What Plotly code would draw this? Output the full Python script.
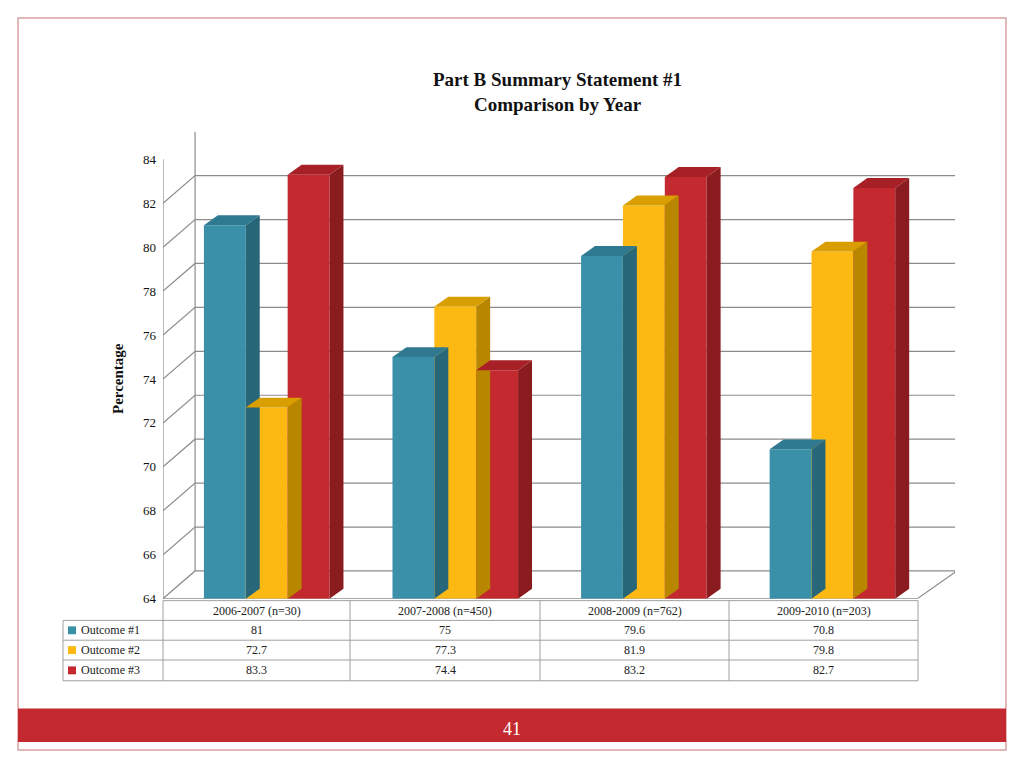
import plotly.graph_objects as go

years = ["2006-2007 (n=30)", "2007-2008 (n=450)", "2008-2009 (n=762)", "2009-2010 (n=203)"]
series_names = ["Outcome #1", "Outcome #2", "Outcome #3"]
outcome1 = [81, 75, 79.6, 70.8]
outcome2 = [72.7, 77.3, 81.9, 79.8]
outcome3 = [83.3, 74.4, 83.2, 82.7]
y_ticks = list(range(64, 86, 2))

front = ["#3A90A9", "#FDB913", "#C3292E"]
side = ["#276779", "#B98600", "#8A1B1F"]
top = ["#2F7A90", "#D99E00", "#A62025"]

# page has an 8px body margin, so map reference pixels into the figure
W, H = 1008, 752
OFF = 8
def px(x): return (x - OFF) / W
def py(y): return 1 - (y - OFF) / H

bw = 0.222
dx, dy = 0.074, 0.45      # bar depth
wx, wy = 0.17, 1.26       # back-wall offset
x0r, x1r = -0.55, 3.65
ymin = 64

fig = go.Figure()
shapes, annotations = [], []

# back wall gridlines
for v in y_ticks[:-1]:
    shapes.append(dict(type="path", xref="x", yref="y", layer="below",
                       path=f"M {x0r},{v} L {x0r+wx},{v+wy} L {x1r},{v+wy}",
                       line=dict(color="#8C8C8C", width=1.2)))
shapes.append(dict(type="line", xref="x", yref="y", x0=x0r+wx, x1=x0r+wx, y0=ymin+wy, y1=84+wy,
                   line=dict(color="#8C8C8C", width=1.2)))
shapes.append(dict(type="line", xref="x", yref="y", x0=x0r, x1=x0r, y0=ymin, y1=84,
                   line=dict(color="#8C8C8C", width=1.2)))
shapes.append(dict(type="path", xref="x", yref="y", layer="below",
                   path=f"M {x0r},{ymin} L {3.45},{ymin} L {x1r},{ymin+wy*0.95} L {x1r},{ymin+wy}",
                   line=dict(color="#8C8C8C", width=1.2)))

all_vals = [outcome1, outcome2, outcome3]
for s, vals in enumerate(all_vals):
    off = (s - 1) * bw
    xs = [i + off for i in range(len(vals))]
    fig.add_trace(go.Bar(x=xs, y=[v - ymin for v in vals], base=ymin, width=bw,
                         marker=dict(color=front[s], line=dict(width=0)),
                         name=series_names[s], showlegend=False))
    for xc, v in zip(xs, vals):
        l, r = xc - bw / 2, xc + bw / 2
        shapes.append(dict(type="path", xref="x", yref="y", fillcolor=side[s], line=dict(width=0),
                           path=f"M {r},{ymin} L {r+dx},{ymin+dy} L {r+dx},{v+dy} L {r},{v} Z"))
        shapes.append(dict(type="path", xref="x", yref="y", fillcolor=top[s], line=dict(width=0),
                           path=f"M {l},{v} L {r},{v} L {r+dx},{v+dy} L {l+dx},{v+dy} Z"))

# data table
cols = [163, 350, 540, 729, 918]
rows = [607, 627, 647, 667, 688]
for xb in cols:
    shapes.append(dict(type="line", xref="paper", yref="paper", x0=px(xb), x1=px(xb),
                       y0=py(rows[0]), y1=py(rows[-1]), line=dict(color="#A0A0A0", width=1)))
shapes.append(dict(type="line", xref="paper", yref="paper", x0=px(63), x1=px(63),
                   y0=py(rows[1]), y1=py(rows[-1]), line=dict(color="#A0A0A0", width=1)))
for i, yb in enumerate(rows):
    shapes.append(dict(type="line", xref="paper", yref="paper", x0=px(163 if i == 0 else 63), x1=px(918),
                       y0=py(yb), y1=py(yb), line=dict(color="#A0A0A0", width=1)))
serif = "Georgia, Liberation Serif, serif"
tf = dict(family=serif, size=12, color="#222")
for c, lab in enumerate(years):
    annotations.append(dict(text=lab, xref="paper", yref="paper", x=px((cols[c]+cols[c+1])/2),
                            y=py((rows[0]+rows[1])/2), xanchor="center", yanchor="middle",
                            showarrow=False, font=tf))
for s, vals in enumerate(all_vals):
    ym = py((rows[s+1]+rows[s+2])/2)
    shapes.append(dict(type="rect", xref="paper", yref="paper", x0=px(68), x1=px(76),
                       y0=ym-4/H, y1=ym+4/H, fillcolor=front[s], line=dict(width=0)))
    annotations.append(dict(text=series_names[s], xref="paper", yref="paper", x=px(79), y=ym,
                            xanchor="left", yanchor="middle", showarrow=False, font=tf))
    for c, v in enumerate(vals):
        annotations.append(dict(text=f"{v:g}", xref="paper", yref="paper", x=px((cols[c]+cols[c+1])/2),
                                y=ym, xanchor="center", yanchor="middle", showarrow=False, font=tf))

# slide frame and footer
shapes.append(dict(type="rect", xref="paper", yref="paper", x0=px(18), x1=px(1006), y0=py(758), y1=py(18),
                   line=dict(color="#D9A0A0", width=1.5), layer="below"))
shapes.append(dict(type="rect", xref="paper", yref="paper", x0=px(18), x1=px(1006), y0=py(750), y1=py(716),
                   fillcolor="#C3292E", line=dict(width=0)))
annotations.append(dict(text="41", xref="paper", yref="paper", x=px(512), y=py(737), xanchor="center",
                        yanchor="middle", showarrow=False, font=dict(family=serif, size=18, color="white")))
annotations.append(dict(text="<b>Part B Summary Statement #1<br>Comparison by Year</b>", xref="paper", yref="paper",
                        x=px(557), y=py(93), xanchor="center", yanchor="middle", showarrow=False,
                        font=dict(family=serif, size=19, color="#111")))
annotations.append(dict(text="<b>Percentage</b>", xref="paper", yref="paper", x=px(118), y=py(383),
                        xanchor="center", yanchor="middle", textangle=-90, showarrow=False,
                        font=dict(family=serif, size=15, color="#111")))

fig.update_layout(
    width=W, height=H, margin=dict(l=0, r=0, t=0, b=0),
    paper_bgcolor="white", plot_bgcolor="white", barmode="overlay",
    xaxis=dict(domain=[px(163), px(955)], range=[x0r, x1r], visible=False),
    yaxis=dict(domain=[py(605), py(133)], range=[ymin, 84 + wy], tickvals=y_ticks,
               showgrid=False, zeroline=False, ticks="", ticklabelstandoff=6,
               tickfont=dict(family=serif, size=13, color="#111")),
    shapes=shapes, annotations=annotations,
)
fig.write_html("out.html")
